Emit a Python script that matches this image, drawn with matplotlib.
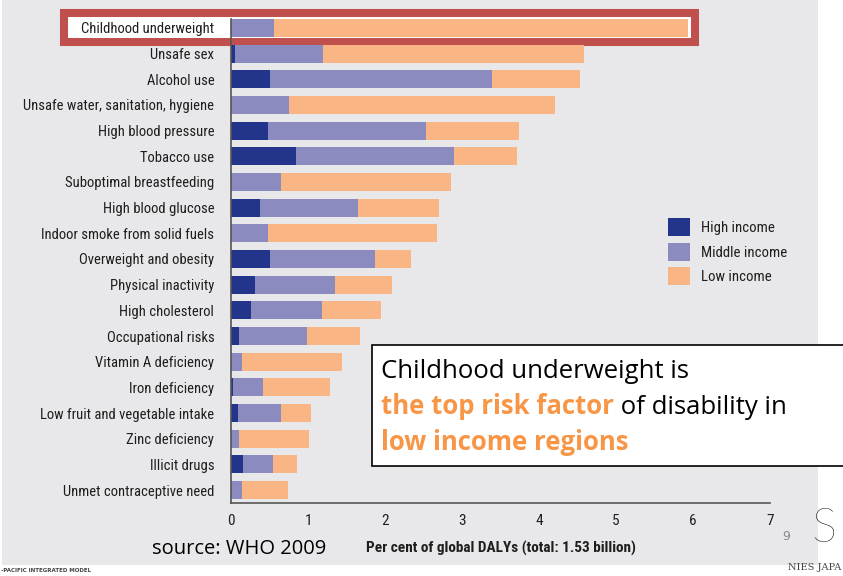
import matplotlib
matplotlib.use('Agg')
import matplotlib.pyplot as plt
from matplotlib.patches import Rectangle, Patch

# --- data (per cent of global DALYs, stacked: high / middle / low income) ---
risks = ['Childhood underweight', 'Unsafe sex', 'Alcohol use',
         'Unsafe water, sanitation, hygiene', 'High blood pressure', 'Tobacco use',
         'Suboptimal breastfeeding', 'High blood glucose', 'Indoor smoke from solid fuels',
         'Overweight and obesity', 'Physical inactivity', 'High cholesterol',
         'Occupational risks', 'Vitamin A deficiency', 'Iron deficiency',
         'Low fruit and vegetable intake', 'Zinc deficiency', 'Illicit drugs',
         'Unmet contraceptive need']
high_income = [0.00, 0.05, 0.51, 0.00, 0.48, 0.84, 0.00, 0.38, 0.00, 0.51,
               0.31, 0.26, 0.10, 0.00, 0.03, 0.09, 0.00, 0.16, 0.00]
middle_income = [0.56, 1.14, 2.88, 0.75, 2.05, 2.06, 0.65, 1.27, 0.48, 1.36,
                 1.04, 0.92, 0.89, 0.14, 0.39, 0.56, 0.10, 0.39, 0.14]
low_income = [5.38, 3.39, 1.14, 3.46, 1.21, 0.81, 2.21, 1.05, 2.20, 0.47,
              0.74, 0.77, 0.69, 1.30, 0.87, 0.39, 0.91, 0.31, 0.60]
x_ticks = [0, 1, 2, 3, 4, 5, 6, 7]
groups = ['High income', 'Middle income', 'Low income']

C_HIGH, C_MID, C_LOW = '#22358b', '#8b8bbf', '#fab584'
ORANGE = '#f79646'
W, H = 843, 576
NARROW = ['Roboto Condensed', 'Liberation Sans Narrow', 'Liberation Sans']
SLIDE = ['Open Sans', 'DejaVu Sans']

fig = plt.figure(figsize=(W / 100, H / 100), dpi=100)
fig.patch.set_facecolor('white')

def px(x0, y0, w, h):
    """pixel box (top-left origin) -> figure fraction rect"""
    return (x0 / W, 1 - (y0 + h) / H, w / W, h / H)

# grey slide panel
r = px(2, 0, 816, 565)
fig.add_artist(Rectangle((r[0], r[1]), r[2], r[3], transform=fig.transFigure,
                         facecolor='#e8e8ea', edgecolor='none', zorder=-5))
# red highlight box around the top row
r = px(64, 13, 631, 29)
fig.add_artist(Rectangle((r[0], r[1]), r[2], r[3], transform=fig.transFigure,
                         facecolor='white', edgecolor='#c0504d', linewidth=5.8, zorder=-1))

ax = fig.add_axes([231 / W, 1 - 503 / H, (770 - 231) / W, (503 - 19) / H])
ax.set_facecolor('none')

y = list(range(len(risks)))
left_low = [h + m for h, m in zip(high_income, middle_income)]
bh = 0.69
ax.barh(y, high_income, height=bh, color=C_HIGH, label=groups[0])
ax.barh(y, middle_income, left=high_income, height=bh, color=C_MID, label=groups[1])
ax.barh(y, low_income, left=left_low, height=bh, color=C_LOW, label=groups[2])

ax.set_xlim(0, 7)
ax.set_ylim(len(risks) - 1 + 0.506, -0.35)
ax.set_yticks(y)
ax.set_yticklabels(risks, family=NARROW, fontsize=10.5, color='#1e1e1e')
ax.set_xticks(x_ticks)
ax.set_xticklabels([str(t) for t in x_ticks], family=NARROW, fontsize=11, color='#1e1e1e')
ax.tick_params(axis='both', length=0)
ax.tick_params(axis='y', pad=12)
ax.tick_params(axis='x', pad=8)
for s in ['top', 'right']:
    ax.spines[s].set_visible(False)
for s in ['left', 'bottom']:
    ax.spines[s].set_color('#555555')
    ax.spines[s].set_linewidth(1.2)

ax.set_xlabel('Per cent of global DALYs (total: 1.53 billion)', family=NARROW,
              fontsize=11, fontweight='bold', color='#1e1e1e', labelpad=9)

handles = [Patch(facecolor=c, edgecolor='none') for c in (C_HIGH, C_MID, C_LOW)]
leg = ax.legend(handles, groups, loc='upper left', bbox_to_anchor=(655 / W, 1 - 205 / H),
                bbox_transform=fig.transFigure, frameon=False, prop={'family': NARROW, 'size': 10.6},
                handlelength=1.5, handleheight=1.5, labelspacing=0.45, handletextpad=0.75)
for t in leg.get_texts():
    t.set_color('#1e1e1e')

# callout text box
r = px(372, 345, 480, 121)
fig.add_artist(Rectangle((r[0], r[1]), r[2], r[3], transform=fig.transFigure,
                         facecolor='white', edgecolor='black', linewidth=1.2, zorder=5))
fs = 18.5
renderer = fig.canvas.get_renderer()
lines = [[('Childhood underweight is', 'black', 'normal')],
         [('the top risk factor', ORANGE, 'bold'), (' of disability in', 'black', 'normal')],
         [('low income regions', ORANGE, 'bold')]]
base_y = [378, 414, 450]
for segs, yy in zip(lines, base_y):
    xx = 381 / W
    for s, c, wt in segs:
        t = fig.text(xx, 1 - yy / H, s, color=c, fontweight=wt, fontsize=fs,
                     family=SLIDE, va='baseline', ha='left', zorder=6)
        bb = t.get_window_extent(renderer)
        xx = bb.x1 / W

fig.text(152 / W, 1 - 549 / H, 'source: WHO 2009', fontsize=14.5, family=SLIDE,
         va='center', ha='left', color='black')
fig.text(786 / W, 1 - 536 / H, '9', fontsize=9, color='#888888', va='center', ha='center')
fig.text(811 / W, 1 - 530 / H, 'S', fontsize=34, family=['Lato', 'DejaVu Sans'], color='black',
         va='center', ha='left', fontweight='light')
fig.text(841 / W, 1 - 568 / H, 'NIES JAPA', fontsize=7, family='DejaVu Serif',
         color='#444444', va='center', ha='right')
fig.text(1 / W, 1 - 571 / H, '-PACIFIC INTEGRATED MODEL', fontsize=4, color='#444444',
         va='center', ha='left', fontweight='bold')

fig.savefig('out.png', dpi=100)
